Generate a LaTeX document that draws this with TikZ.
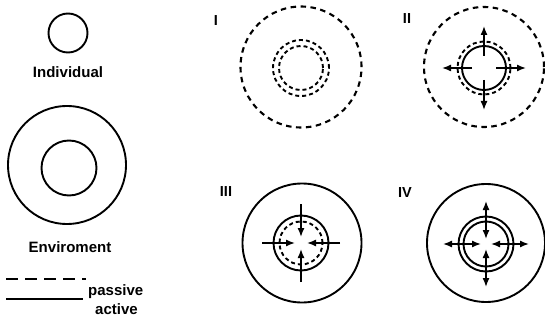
\documentclass[tikz,border=0pt]{standalone}
\usepackage{fontspec}
\setmainfont{Liberation Sans}
\usetikzlibrary{arrows.meta}
\begin{document}
\begin{tikzpicture}[x=1pt,y=-1pt,
  ring/.style={circle,draw,inner sep=0pt,line width=1.9pt},
  dbig/.style={circle,draw,inner sep=0pt,line width=2.1pt,dash pattern=on 5.5pt off 4.5pt},
  dsmall/.style={circle,draw,inner sep=0pt,line width=1.9pt,dash pattern=on 4pt off 3pt},
  arr/.style={line width=1.4pt,-{Latex[length=9pt,width=7pt]}},
  darr/.style={line width=1.4pt,{Latex[length=9pt,width=7pt]}-{Latex[length=9pt,width=7pt]}},
  lbl/.style={font=\bfseries\fontsize{15}{18}\selectfont,inner sep=0pt},
  num/.style={font=\bfseries\fontsize{14.5}{16}\selectfont,inner sep=0pt}]
\useasboundingbox (0,0) rectangle (545,320);

% left column
\node[ring,minimum size=39pt] (ind) at (68,33) {};
\node[lbl] (tind) at (68,72) {Individual};
\node[ring,minimum size=118pt] (envo) at (67,165) {};
\node[ring,minimum size=55pt] (envi) at (69,168) {};
\node[lbl] (tenv) at (70,247) {Enviroment};

% legend
\coordinate (la) at (6,279);
\coordinate (lb) at (86,279);
\coordinate (lc) at (6,299);
\coordinate (ld) at (83,299);
\draw[line width=2pt,dash pattern=on 12pt off 7pt] (la) -- (lb);
\draw[line width=1.9pt] (lc) -- (ld);
\node[lbl,anchor=base west] (tpas) at (88,295) {passive};
\node[lbl,anchor=base west] (tact) at (95,314) {active};

% I
\node[num] (n1) at (216,21) {I};
\node[dbig,minimum size=121pt] (o1) at (301,67) {};
\node[dsmall,minimum size=56pt] (a1) at (301,68) {};
\node[dsmall,minimum size=44pt] (b1) at (301,68) {};

% II
\node[num] (n2) at (407,19) {II};
\node[dbig,minimum size=120pt] (o2) at (484,67) {};
\node[dsmall,minimum size=53pt] (a2) at (484,68) {};
\node[ring,minimum size=44pt] (b2) at (484,68) {};
\foreach \a in {0,90,180,270}
  \draw[arr] ([shift={(\a:12)}]b2.center) -- ([shift={(\a:42)}]b2.center);

% III
\node[num] (n3) at (226,192) {III};
\node[ring,minimum size=119pt] (o3) at (302,243) {};
\node[ring,minimum size=55pt] (a3) at (301,243) {};
\node[dsmall,minimum size=43pt] (b3) at (301,243) {};
\foreach \a in {0,90,180,270}
  \draw[arr] ([shift={(\a:39)}]a3.center) -- ([shift={(\a:6)}]a3.center);

% IV
\node[num] (n4) at (405,193) {IV};
\node[ring,minimum size=118pt] (o4) at (486,243) {};
\node[ring,minimum size=55pt] (a4) at (486,244) {};
\node[ring,minimum size=45pt] (b4) at (486,244) {};
\foreach \a in {0,90,180,270}
  \draw[darr] ([shift={(\a:5)}]a4.center) -- ([shift={(\a:43)}]a4.center);
\end{tikzpicture}
\end{document}
